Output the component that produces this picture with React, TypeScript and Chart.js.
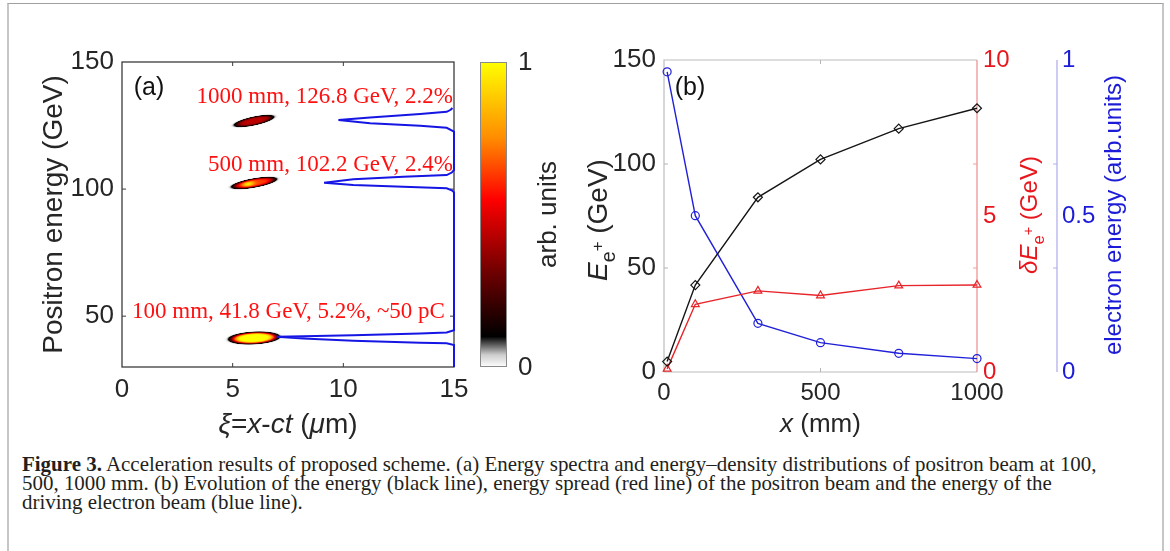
import React, { useEffect, useRef } from 'react';
import { Chart, registerables } from 'chart.js';
Chart.register(...registerables);

// ---------------- Panel (a) data ----------------
const xiTicks = [0, 5, 10, 15];
const energyTicksA = [50, 100, 150];
// blue spectrum line: positron energy (GeV) vs xi position (um)
const specE = [
  131.9, 131.2, 130.4, 129.5, 128.2, 127.2, 125.9, 124.9, 124.1, 122.6,
  107.5, 106.5, 105.5, 104.9, 103.9, 102.5, 101.6, 100.9, 100.3, 99.5, 98.7,
  44.5, 43.6, 43.2, 42.5, 42.1, 41.9, 41.2, 40.3, 39.5, 39.3, 38.6, 30,
];
const specXi = [
  14.93, 14.85, 14.67, 13.47, 11.21, 9.78, 11.21, 13.47, 14.67, 15,
  15, 14.9, 14.67, 12.71, 10.45, 9.13, 10.45, 12.71, 14.67, 14.9, 15,
  15, 14.67, 13.47, 10.45, 8.19, 6.99, 8.19, 10.45, 13.47, 14.67, 15, 15,
];
// positron bunches (energy-density blobs)
const blobLabels = ['1000 mm, 126.8 GeV, 2.2%', '500 mm, 102.2 GeV, 2.4%', '100 mm, 41.8 GeV, 5.2%, ~50 pC'];
const blobXi = [5.95, 5.95, 5.95];
const blobE = [126.8, 102.4, 41.3];
const blobHalfXi = [0.8, 0.88, 0.95];
const blobHalfE = [1.45, 1.5, 2.0];
const blobPeak = [0.38, 0.58, 1.0];
const blobHot = [0, 0.32, 0];
const colorbarTicks = [0, 1];

// ---------------- Panel (b) data ----------------
const distance = [10, 100, 300, 500, 750, 1000];
const positronEnergy = [5, 41.8, 84, 102.2, 117, 126.8];
const energySpread = [0.1, 2.17, 2.6, 2.45, 2.77, 2.79];
const electronEnergy = [0.962, 0.501, 0.156, 0.094, 0.06, 0.043];
const xTicksB = [0, 500, 1000];
const yTicksB = [0, 50, 100, 150];
const spreadTicks = [0, 5, 10];
const electronTicks = [0, 0.5, 1];

// ---------------- styles ----------------
const SANS = '"Liberation Sans", Arial, sans-serif';
const SERIF = '"Liberation Serif", "Times New Roman", serif';
const TXT = '#262626';
const CMAP_POS = [0, 0.04, 0.1, 0.3, 0.55, 0.75, 1];
const CMAP_RGB = [
  [255, 255, 255], [205, 205, 205], [0, 0, 0], [105, 0, 0], [255, 0, 0], [255, 140, 0], [255, 255, 0],
];
const BLOB_TILT_DEG = [-12, -10, -3];
const ANNOT_XI = [14.955, 14.955, 14.59];
const ANNOT_E = [136.2, 109.5, 51.6];
const B_LEFT = 560;

function cmap(v: number): number[] {
  const x = Math.max(0, Math.min(1, v));
  for (let i = 1; i < CMAP_POS.length; i++) {
    if (x <= CMAP_POS[i]) {
      const t = (x - CMAP_POS[i - 1]) / (CMAP_POS[i] - CMAP_POS[i - 1]);
      const a = CMAP_RGB[i - 1], b = CMAP_RGB[i];
      return [a[0] + (b[0] - a[0]) * t, a[1] + (b[1] - a[1]) * t, a[2] + (b[2] - a[2]) * t];
    }
  }
  return CMAP_RGB[CMAP_RGB.length - 1];
}

type Seg = { t: string; it?: boolean; s?: number; dy?: number };
function richText(ctx: CanvasRenderingContext2D, segs: Seg[], x: number, y: number, size: number, family: string, color: string, rot: number) {
  ctx.save();
  ctx.translate(x, y);
  ctx.rotate(rot);
  ctx.fillStyle = color;
  ctx.textAlign = 'left';
  ctx.textBaseline = 'alphabetic';
  const fontFor = (g: Seg) => `${g.it ? 'italic ' : ''}${size * (g.s ?? 1)}px ${family}`;
  let total = 0;
  const ws = segs.map((g) => {
    ctx.font = fontFor(g);
    const w = ctx.measureText(g.t).width;
    total += w;
    return w;
  });
  let cx = -total / 2;
  const base = size * 0.36;
  segs.forEach((g, i) => {
    ctx.font = fontFor(g);
    ctx.fillText(g.t, cx, base + (g.dy ?? 0) * size);
    cx += ws[i];
  });
  ctx.restore();
}

const setTicks = (arr: number[]) => (s: any) => {
  s.ticks = arr.map((v) => ({ value: v }));
};

const panelAPlugin = {
  id: 'panelA',
  beforeDatasetsDraw(chart: any) {
    const ctx: CanvasRenderingContext2D = chart.ctx;
    const xs = chart.scales.x, ys = chart.scales.y;
    const ca = chart.chartArea;
    // blobs
    for (let i = 0; i < blobXi.length; i++) {
      const cx = xs.getPixelForValue(blobXi[i]);
      const cy = ys.getPixelForValue(blobE[i]);
      const a = Math.abs(xs.getPixelForValue(blobXi[i] + blobHalfXi[i]) - cx);
      const b = Math.abs(ys.getPixelForValue(blobE[i] + blobHalfE[i]) - cy);
      const th = (BLOB_TILT_DEG[i] * Math.PI) / 180;
      const R = Math.ceil(a * 1.6) + 2;
      const off = document.createElement('canvas');
      off.width = 2 * R; off.height = 2 * R;
      const octx = off.getContext('2d')!;
      const img = octx.createImageData(2 * R, 2 * R);
      const c = Math.cos(th), s = Math.sin(th);
      for (let py = 0; py < 2 * R; py++) {
        for (let px = 0; px < 2 * R; px++) {
          const dx = px - R + 0.5, dy = py - R + 0.5;
          const u = (dx * c + dy * s) / a;
          const v = (-dx * s + dy * c) / b;
          const r2 = u * u + v * v;
          let I = blobPeak[i] * Math.exp(-0.8 * r2 * r2 * r2);
          I += blobHot[i] * Math.exp(-((u + 0.3) * (u + 0.3) * 4 + v * v) / 0.35);
          I += 0.06 * Math.exp(-0.5 * r2 * r2);
          if (I < 0.004) continue;
          const col = cmap(I);
          const k = (py * 2 * R + px) * 4;
          img.data[k] = col[0]; img.data[k + 1] = col[1]; img.data[k + 2] = col[2];
          img.data[k + 3] = Math.round(255 * Math.min(1, I / 0.04));
        }
      }
      octx.putImageData(img, 0, 0);
      ctx.drawImage(off, Math.round(cx - R), Math.round(cy - R));
    }
    // box
    ctx.save();
    ctx.strokeStyle = '#3c3c3c';
    ctx.lineWidth = 1.3;
    ctx.strokeRect(ca.left, ca.top, ca.right - ca.left, ca.bottom - ca.top);
    ctx.lineWidth = 1;
    ctx.beginPath();
    [5, 10].forEach((v) => {
      const p = xs.getPixelForValue(v);
      ctx.moveTo(p, ca.bottom); ctx.lineTo(p, ca.bottom - 4);
      ctx.moveTo(p, ca.top); ctx.lineTo(p, ca.top + 4);
    });
    [50, 100].forEach((v) => {
      const p = ys.getPixelForValue(v);
      ctx.moveTo(ca.left, p); ctx.lineTo(ca.left + 4, p);
      ctx.moveTo(ca.right, p); ctx.lineTo(ca.right - 4, p);
    });
    ctx.stroke();
    ctx.restore();
  },
  afterDraw(chart: any) {
    const ctx: CanvasRenderingContext2D = chart.ctx;
    const xs = chart.scales.x, ys = chart.scales.y;
    const ca = chart.chartArea;
    ctx.save();
    // annotations
    ctx.fillStyle = '#ff1010';
    ctx.font = `23px ${SERIF}`;
    ctx.textAlign = 'right';
    ctx.textBaseline = 'middle';
    blobLabels.forEach((t, i) => {
      ctx.fillText(t, xs.getPixelForValue(ANNOT_XI[i]), ys.getPixelForValue(ANNOT_E[i]));
    });
    // (a)
    ctx.fillStyle = '#111';
    ctx.font = `25px ${SANS}`;
    ctx.textAlign = 'center';
    ctx.fillText('(a)', 149, 88);
    ctx.restore();
    // axis titles
    richText(ctx, [
      { t: 'ξ', it: true }, { t: '=' }, { t: 'x', it: true }, { t: '-' }, { t: 'ct', it: true },
      { t: ' (' }, { t: 'μ', it: true }, { t: 'm)' },
    ], (ca.left + ca.right) / 2, 423, 28, SANS, TXT, 0);
    richText(ctx, [{ t: 'Positron energy (GeV)' }], 52, (ca.top + ca.bottom) / 2, 28, SANS, TXT, -Math.PI / 2);
    // colorbar
    const cbL = 480, cbW = 27, cbT = ca.top, cbB = ca.bottom;
    const g = ctx.createLinearGradient(0, cbB, 0, cbT);
    CMAP_POS.forEach((p, i) => g.addColorStop(p, `rgb(${CMAP_RGB[i].join(',')})`));
    ctx.save();
    ctx.fillStyle = g;
    ctx.fillRect(cbL, cbT, cbW, cbB - cbT);
    ctx.strokeStyle = '#8a8a8a';
    ctx.lineWidth = 1;
    ctx.strokeRect(cbL + 0.5, cbT + 0.5, cbW - 1, cbB - cbT - 1);
    ctx.fillStyle = TXT;
    ctx.font = `26px ${SANS}`;
    ctx.textAlign = 'left';
    ctx.textBaseline = 'middle';
    colorbarTicks.forEach((v) => {
      const y = cbB - v * (cbB - cbT);
      ctx.fillText(String(v), cbL + cbW + 11, y + 1);
    });
    ctx.restore();
    richText(ctx, [{ t: 'arb. units' }], 547, (cbT + cbB) / 2, 26, SANS, TXT, -Math.PI / 2);
  },
};

const panelBPlugin = {
  id: 'panelB',
  beforeDatasetsDraw(chart: any) {
    const ctx: CanvasRenderingContext2D = chart.ctx;
    const xs = chart.scales.x, ys = chart.scales.y, y2 = chart.scales.y2;
    const ca = chart.chartArea;
    ctx.save();
    ctx.lineWidth = 1.2;
    ctx.strokeStyle = '#bdbdbd';
    ctx.beginPath();
    ctx.moveTo(ca.right, ca.top); ctx.lineTo(ca.left, ca.top); ctx.lineTo(ca.left, ca.bottom); ctx.lineTo(ca.right, ca.bottom);
    ctx.stroke();
    ctx.strokeStyle = '#f08a8a';
    ctx.beginPath();
    ctx.moveTo(ca.right, ca.top); ctx.lineTo(ca.right, ca.bottom);
    ctx.stroke();
    ctx.strokeStyle = '#aaaaec';
    ctx.beginPath();
    ctx.moveTo(y2.left, ca.top); ctx.lineTo(y2.left, ca.bottom);
    ctx.stroke();
    // inner ticks
    ctx.lineWidth = 1;
    ctx.strokeStyle = '#b5b5b5';
    ctx.beginPath();
    const px = xs.getPixelForValue(500);
    ctx.moveTo(px, ca.bottom); ctx.lineTo(px, ca.bottom - 4);
    ctx.moveTo(px, ca.top); ctx.lineTo(px, ca.top + 4);
    [50, 100].forEach((v) => {
      const p = ys.getPixelForValue(v);
      ctx.moveTo(ca.left, p); ctx.lineTo(ca.left + 4, p);
    });
    ctx.stroke();
    ctx.strokeStyle = '#f0a0a0';
    ctx.beginPath();
    [50, 100].forEach((v) => {
      const p = ys.getPixelForValue(v);
      ctx.moveTo(ca.right, p); ctx.lineTo(ca.right - 4, p);
    });
    ctx.stroke();
    ctx.strokeStyle = '#b0b0ec';
    ctx.beginPath();
    [50, 100].forEach((v) => {
      const p = ys.getPixelForValue(v);
      ctx.moveTo(y2.left, p); ctx.lineTo(y2.left - 4, p);
    });
    ctx.stroke();
    ctx.restore();
  },
  afterDraw(chart: any) {
    const ctx: CanvasRenderingContext2D = chart.ctx;
    const ca = chart.chartArea;
    const y2 = chart.scales.y2;
    ctx.save();
    ctx.fillStyle = '#111';
    ctx.font = `25px ${SANS}`;
    ctx.textAlign = 'center';
    ctx.textBaseline = 'middle';
    ctx.fillText('(b)', 690 - B_LEFT, 88);
    ctx.restore();
    richText(ctx, [{ t: 'x', it: true }, { t: ' (mm)' }], (ca.left + ca.right) / 2, 423, 26, SANS, TXT, 0);
    richText(ctx, [
      { t: 'E', it: true }, { t: 'e', s: 0.7, dy: 0.3 }, { t: '+', s: 0.6, dy: -0.15 }, { t: ' (GeV)' },
    ], 597 - B_LEFT, 220, 28, SANS, TXT, -Math.PI / 2);
    richText(ctx, [
      { t: 'δ', it: true }, { t: 'E', it: true }, { t: 'e', s: 0.7, dy: 0.3 }, { t: '+', s: 0.6, dy: -0.15 }, { t: ' (GeV)' },
    ], 1028 - B_LEFT, 215, 24, SANS, '#e8171d', -Math.PI / 2);
    richText(ctx, [{ t: 'electron energy (arb.units)' }], y2.left + 55, 215, 24, SANS, '#1c1cd8', -Math.PI / 2);
  },
};

export default function App() {
  const refA = useRef<HTMLCanvasElement>(null);
  const refB = useRef<HTMLCanvasElement>(null);
  const capRef = useRef<HTMLDivElement>(null);

  useEffect(() => {
    const tickFont = (size: number) => ({ family: SANS, size });
    const chartA = new Chart(refA.current!, {
      type: 'line',
      data: {
        datasets: [
          {
            data: specXi.map((x, i) => ({ x, y: specE[i] })),
            borderColor: '#1515e4',
            borderWidth: 2,
            pointRadius: 0,
            tension: 0,
            fill: false,
            clip: false as any,
          },
        ],
      },
      options: {
        animation: false,
        responsive: false,
        maintainAspectRatio: false,
        events: [],
        layout: { padding: { top: 62, right: 106, left: 0, bottom: 0 } },
        plugins: { legend: { display: false }, tooltip: { enabled: false } },
        scales: {
          x: {
            type: 'linear', min: 0, max: 15,
            afterBuildTicks: setTicks(xiTicks),
            afterFit: (s: any) => { s.height = 73; },
            grid: { display: false, drawTicks: false },
            border: { display: false },
            ticks: { font: tickFont(26), color: TXT, padding: 7, maxRotation: 0, autoSkip: false, callback: (v: any) => String(v) },
          },
          y: {
            type: 'linear', min: 30, max: 150,
            afterBuildTicks: setTicks(energyTicksA),
            afterFit: (s: any) => { s.width = 122; },
            grid: { display: false, drawTicks: false },
            border: { display: false },
            ticks: { font: tickFont(26), color: TXT, padding: 8, autoSkip: false, callback: (v: any) => String(v) },
          },
        },
      } as any,
      plugins: [panelAPlugin],
    });

    const ds = (data: number[], yAxisID: string, color: string, style: string, r: number) => ({
      data: distance.map((x, i) => ({ x, y: data[i] })),
      yAxisID,
      borderColor: color,
      borderWidth: 1.4,
      pointStyle: style,
      pointRadius: r,
      pointBorderColor: color,
      pointBackgroundColor: 'rgba(255,255,255,0)',
      pointBorderWidth: 1.2,
      tension: 0,
      fill: false,
      clip: false as any,
    });
    const chartB = new Chart(refB.current!, {
      type: 'line',
      data: {
        datasets: [
          ds(positronEnergy, 'y', '#151515', 'rectRot', 4.5),
          ds(energySpread, 'y1', '#e8242a', 'triangle', 4.5),
          ds(electronEnergy, 'y2', '#2020d8', 'circle', 4),
        ],
      },
      options: {
        animation: false,
        responsive: false,
        maintainAspectRatio: false,
        events: [],
        layout: { padding: { top: 60, right: 0, left: 0, bottom: 0 } },
        plugins: { legend: { display: false }, tooltip: { enabled: false } },
        scales: {
          x: {
            type: 'linear', min: 0, max: 1000,
            afterBuildTicks: setTicks(xTicksB),
            afterFit: (s: any) => { s.height = 68; },
            grid: { display: false, drawTicks: false },
            border: { display: false },
            ticks: { font: tickFont(24), color: TXT, padding: 7, maxRotation: 0, autoSkip: false, callback: (v: any) => String(v) },
          },
          y: {
            type: 'linear', position: 'left', min: 0, max: 150,
            afterBuildTicks: setTicks(yTicksB),
            afterFit: (s: any) => { s.width = 664 - B_LEFT; },
            grid: { display: false, drawTicks: false },
            border: { display: false },
            ticks: { font: tickFont(26), color: TXT, padding: 8, autoSkip: false, callback: (v: any) => String(v) },
          },
          y1: {
            type: 'linear', position: 'right', weight: 0, min: 0, max: 10,
            afterBuildTicks: setTicks(spreadTicks),
            afterFit: (s: any) => { s.width = 80; },
            grid: { display: false, drawTicks: false },
            border: { display: false },
            ticks: { font: tickFont(24), color: '#e8171d', padding: 6, autoSkip: false, callback: (v: any) => String(v) },
          },
          y2: {
            type: 'linear', position: 'right', weight: 1, min: 0, max: 1,
            afterBuildTicks: setTicks(electronTicks),
            afterFit: (s: any) => { s.width = 113; },
            grid: { display: false, drawTicks: false },
            border: { display: false },
            ticks: { font: tickFont(24), color: '#1c1cd8', padding: 5, autoSkip: false, callback: (v: any) => String(v) },
          },
        },
      } as any,
      plugins: [panelBPlugin],
    });

    // caption: fit first line width by font size
    const cap = capRef.current;
    if (cap) {
      const l1 = cap.children[0] as HTMLElement;
      const w = l1.getBoundingClientRect().width;
      cap.style.fontSize = `${(18 * 1075) / w}px`;
    }
    return () => {
      chartA.destroy();
      chartB.destroy();
    };
  }, []);

  const lineStyle: React.CSSProperties = { width: 'max-content', whiteSpace: 'nowrap' };
  return (
    <div style={{ position: 'fixed', left: 0, top: 0, width: 1170, height: 551, background: '#fff', overflow: 'hidden' }}>
      <div style={{ position: 'absolute', left: 7, top: 3, width: 1153, height: 700, borderLeft: '2px solid #c6c6c6', borderTop: '1px solid #a0a0a0', borderRight: '2px solid #c6c6c6' }} />
      <canvas ref={refA} width={560} height={440} style={{ position: 'absolute', left: 0, top: 0, width: 560, height: 440 }} />
      <canvas ref={refB} width={1170 - B_LEFT} height={440} style={{ position: 'absolute', left: B_LEFT, top: 0, width: 1170 - B_LEFT, height: 440 }} />
      <div ref={capRef} style={{ position: 'absolute', left: 22, top: 455, fontFamily: SERIF, fontSize: 18, lineHeight: '19px', color: '#231f20' }}>
        <div style={lineStyle}><b>Figure 3.</b> Acceleration results of proposed scheme. (a) Energy spectra and energy–density distributions of positron beam at 100,</div>
        <div style={lineStyle}>500, 1000 mm. (b) Evolution of the energy (black line), energy spread (red line) of the positron beam and the energy of the</div>
        <div style={lineStyle}>driving electron beam (blue line).</div>
      </div>
    </div>
  );
}
